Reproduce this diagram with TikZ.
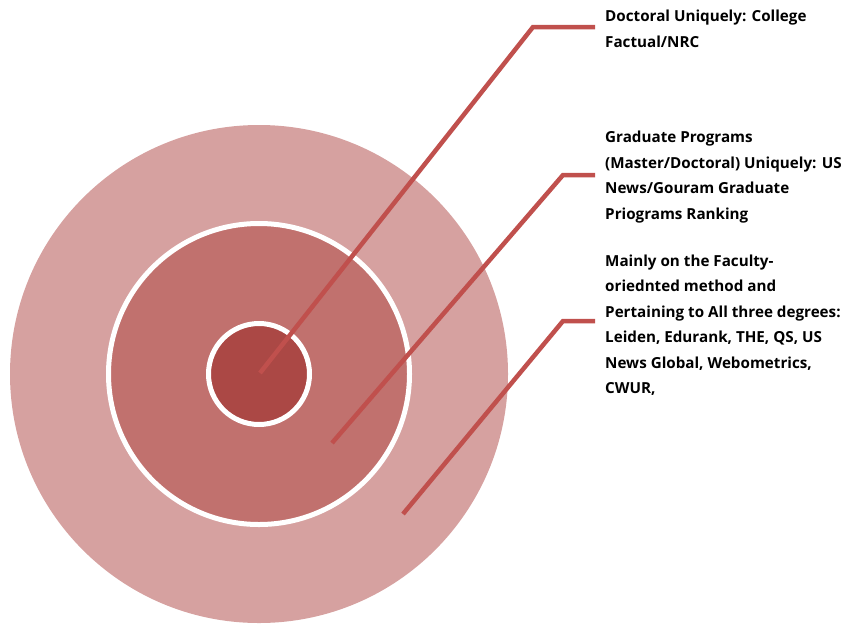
\documentclass[tikz,border=0pt]{standalone}
\usepackage{fontspec}
\setsansfont{Open Sans}
\definecolor{ringout}{RGB}{214,161,160}
\definecolor{ringmid}{RGB}{193,113,110}
\definecolor{ringin}{RGB}{171,72,69}
\definecolor{leader}{RGB}{192,80,77}
\begin{document}
\begin{tikzpicture}[x=1pt, y=-1pt, font=\sffamily\bfseries\fontsize{15.2}{25.5}\selectfont,
    ring/.style={draw=white, line width=5pt},
    leaderline/.style={draw=leader, line width=4.5pt, line join=miter, line cap=butt},
    lbl/.style={anchor=base west, inner sep=0pt, align=left}]
    \useasboundingbox (0,0) rectangle (850,624);
        % Rings
        \fill[ringout] (259,374) circle (249);
        \draw[ring, fill=ringmid] (259,374) circle (150.5);
        \draw[ring, fill=ringin] (259,374) circle (50.5);

        % Labels (placed at the baseline of their last line)
        \node[lbl] (doc) at (605,47) {Doctoral Uniquely: College\\Factual/NRC};
        \node[lbl] (grad) at (605,219) {Graduate Programs\\(Master/Doctoral) Uniquely: US\\News/Gouram Graduate\\Priograms Ranking};
        \node[lbl] (all) at (605,393.5) {Mainly on the Faculty-\\oriednted method and\\Pertaining to All three degrees:\\Leiden, Edurank, THE, QS, US\\News Global, Webometrics,\\CWUR,};

        % Leader lines
        \coordinate (docin) at (260,373);
        \coordinate (docbend) at (533,27);
        \coordinate (docend) at (595,27);
        \draw[leaderline] (docin) -- (docbend) -- (docend);

        \coordinate (gradin) at (332,443);
        \coordinate (gradbend) at (563,175);
        \coordinate (gradend) at (595,175);
        \draw[leaderline] (gradin) -- (gradbend) -- (gradend);

        \coordinate (allin) at (403,514);
        \coordinate (allbend) at (563,321);
        \coordinate (allend) at (595,321);
        \draw[leaderline] (allin) -- (allbend) -- (allend);
\end{tikzpicture}
\end{document}
